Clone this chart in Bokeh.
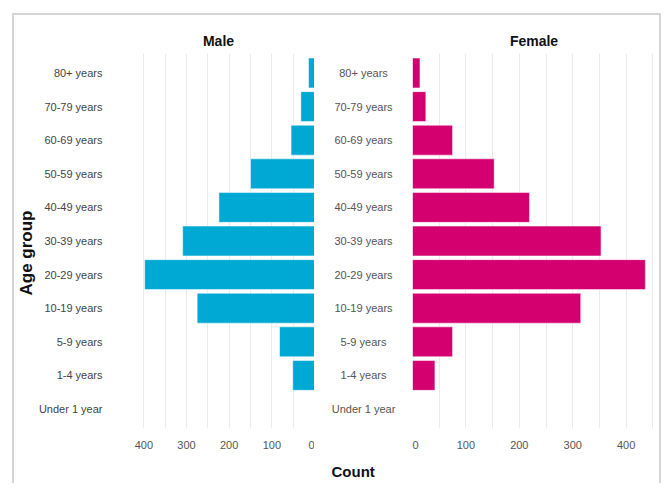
from bokeh.plotting import figure
from bokeh.layouts import row
from bokeh.models import Range1d, FactorRange, SingleIntervalTicker, FixedTicker, ColumnDataSource, Title
from bokeh.core.properties import value
from bokeh.embed import file_html
from bokeh.resources import INLINE

ages = ["Under 1 year", "1-4 years", "5-9 years", "10-19 years", "20-29 years",
        "30-39 years", "40-49 years", "50-59 years", "60-69 years", "70-79 years", "80+ years"]
male = [1, 51, 82, 275, 398, 309, 224, 150, 55, 32, 14]
female = [0, 42, 75, 315, 436, 353, 219, 153, 75, 25, 14]
ticks = [0, 100, 200, 300, 400]

MALE_C = "#00a9d3"
FEMALE_C = "#d4006f"
FONT = "Liberation Sans"
LABEL_C = "#555555"
GRID_C = "#ebebeb"

src = ColumnDataSource(dict(age=ages, male=male, female=female, zero=[0] * len(ages)))

H = 468
TOP = 38
BOTTOM = 55


def yrange():
    return FactorRange(factors=ages, range_padding=0.08, range_padding_units="absolute")


def spacer_axis(ax, spacer, overrides):
    # invisible (white) ticks used only to reserve space; labels emptied
    ax.axis_line_color = None
    ax.major_tick_line_color = "white"
    ax.minor_tick_line_color = None
    ax.major_tick_in = 0
    ax.major_tick_out = spacer
    ax.major_label_standoff = 0
    ax.major_label_overrides = overrides


def style(p, title):
    p.toolbar_location = None
    p.outline_line_color = None
    p.background_fill_color = "white"
    p.border_fill_color = "white"
    p.title.text = title
    p.title.align = "center"
    p.title.text_font = FONT
    p.title.text_font_size = "14px"
    p.title.text_font_style = "bold"
    p.title.text_color = "#111111"
    p.ygrid.grid_line_color = None
    p.xgrid.ticker = SingleIntervalTicker(interval=50)
    p.xgrid.grid_line_color = GRID_C
    p.xaxis.ticker = FixedTicker(ticks=ticks)
    p.xaxis.axis_line_color = None
    p.xaxis.major_tick_line_color = None
    p.xaxis.minor_tick_line_color = None
    p.xaxis.major_label_text_font = FONT
    p.xaxis.major_label_text_font_size = "11px"
    p.xaxis.major_label_text_color = LABEL_C
    p.xaxis.major_label_standoff = 6
    p.yaxis.visible = False


left = figure(width=300, height=H, x_range=Range1d(450, 0), y_range=yrange(),
              output_backend="svg", toolbar_location=None,
              min_border_left=48, min_border_right=0, min_border_top=TOP, min_border_bottom=BOTTOM)
style(left, "Male")
left.yaxis.visible = True
spacer_axis(left.yaxis[0], 20, {a: "" for a in ages})
left.add_layout(Title(text="Age group", align="left", offset=133, standoff=0, vertical_align="bottom",
                      text_font=FONT, text_font_size="17px", text_font_style="bold",
                      text_color="#111111"), "left")
left.hbar(y="age", left="zero", right="male", height=0.89, source=src,
          fill_color=MALE_C, line_color="white", line_alpha=0.5, line_width=1)

right = figure(width=247, height=H, x_range=Range1d(0, 455), y_range=yrange(),
               output_backend="svg", toolbar_location=None,
               min_border_left=0, min_border_right=4, min_border_top=TOP, min_border_bottom=BOTTOM)
style(right, "Female")
right.hbar(y="age", left="zero", right="female", height=0.89, source=src,
           fill_color=FEMALE_C, line_color="white", line_alpha=0.5, line_width=1)

mid = figure(width=98, height=H, x_range=Range1d(-1, 1), y_range=yrange(),
             output_backend="svg", toolbar_location=None,
             min_border_left=0, min_border_right=0, min_border_top=TOP, min_border_bottom=BOTTOM)
mid.outline_line_color = None
mid.grid.grid_line_color = None
mid.yaxis.visible = False
mid.xaxis.ticker = FixedTicker(ticks=[0])
spacer_axis(mid.xaxis[0], 30, {0: ""})
mid.add_layout(Title(text="Count", align="left", offset=17, standoff=4, vertical_align="bottom",
                     text_font=FONT, text_font_size="15px", text_font_style="bold",
                     text_color="#111111"), "below")
mid.text(x=0, y="age", text="age", source=src, text_align="center", text_baseline="middle",
         text_font=value(FONT), text_font_size="11px", text_color=LABEL_C)

lay = row(left, mid, right, margin=(13, 0, 0, 12),
          styles={"border-top": "2px solid #d6d6d6", "border-left": "2px solid #d6d6d6",
                  "border-right": "2px solid #d6d6d6"})

open("out.html", "w").write(file_html(lay, INLINE))
